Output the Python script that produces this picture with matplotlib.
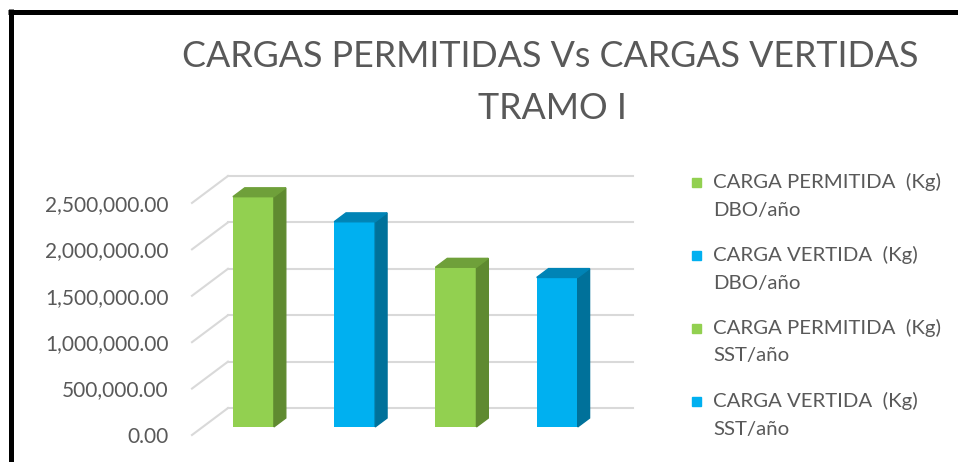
import numpy as np
import matplotlib.pyplot as plt
from matplotlib.patches import Polygon, Rectangle
from matplotlib.lines import Line2D

plt.rcParams['font.family'] = ['Lato', 'DejaVu Sans']

# data
labels = ["CARGA PERMITIDA  (Kg)\nDBO/año", "CARGA VERTIDA  (Kg)\nDBO/año",
          "CARGA PERMITIDA  (Kg)\nSST/año", "CARGA VERTIDA  (Kg)\nSST/año"]
values = [2480000, 2210000, 1720000, 1610000]
yticks = [0, 500000, 1000000, 1500000, 2000000, 2500000]

face_colors = ["#92D050", "#00B0F0", "#92D050", "#00B0F0"]
side_colors = ["#5F8A30", "#00719A", "#5F8A30", "#00719A"]
top_colors = ["#6FA03A", "#0084B6", "#6FA03A", "#0084B6"]
text_color = "#595959"
grid_color = "#D9D9D9"

# fake 3d: depth shift for the back wall
DX = 0.355
DY = 290000
z0, z1 = 0.30, 0.63
w = 0.405

W, H = 958, 462
fig = plt.figure(figsize=(W / 100, H / 100), dpi=100)
ax = fig.add_axes([192 / W, (H - 435) / H, (633 - 192) / W, (435 - 176) / H])
ax.set_xlim(-0.5, 3.5 + DX)
ax.set_ylim(0, yticks[-1] + DY)

# side wall + back wall gridlines
for t in yticks:
    ax.plot([-0.5, -0.5 + DX], [t, t + DY], color=grid_color, lw=1.5, clip_on=False, zorder=1)
    ax.plot([-0.5 + DX, 3.5 + DX], [t + DY, t + DY], color=grid_color, lw=1.5, clip_on=False, zorder=1)

xs = np.arange(len(values))
bottom = z0 * DY
ddx = (z1 - z0) * DX
ddy = (z1 - z0) * DY
ax.bar(xs + z0 * DX, values, width=w, bottom=bottom, color=face_colors, zorder=3)
for i, v in enumerate(values):
    xl = xs[i] + z0 * DX - w / 2
    xr = xl + w
    top = bottom + v
    ax.add_patch(Polygon([(xr, bottom), (xr, top), (xr + ddx, top + ddy), (xr + ddx, bottom + ddy)],
                         closed=True, color=side_colors[i], zorder=3))
    ax.add_patch(Polygon([(xl, top), (xr, top), (xr + ddx, top + ddy), (xl + ddx, top + ddy)],
                         closed=True, color=top_colors[i], zorder=3))

ax.set_yticks(yticks)
ax.set_yticklabels([f"{t:,.2f}" for t in yticks], fontsize=15, color=text_color)
ax.tick_params(axis='y', length=0, pad=17)
ax.set_xticks([])
for s in ax.spines.values():
    s.set_visible(False)

# title
fig.text(550 / W, 1 - 67 / H, "CARGAS PERMITIDAS Vs CARGAS VERTIDAS", ha='center', va='baseline',
         fontsize=25.8, color=text_color)
fig.text(552 / W, 1 - 119 / H, "TRAMO I", ha='center', va='baseline',
         fontsize=25.8, color=text_color)

# legend
for i, lab in enumerate(labels):
    y = 182 + 73 * i
    fig.add_artist(Rectangle((692 / W, 1 - (y + 4.5) / H), 9 / W, 9 / H,
                             transform=fig.transFigure, color=face_colors[i]))
    l1, l2 = lab.split("\n")
    fig.text(713 / W, 1 - y / H, l1, va='center', fontsize=14.7, color=text_color)
    fig.text(713 / W, 1 - (y + 28) / H, l2, va='center', fontsize=14.7, color=text_color)

# frame
fig.add_artist(Line2D([8 / W, 1], [1 - 11.5 / H, 1 - 11.5 / H], color='black', lw=3.6,
                      transform=fig.transFigure, solid_capstyle='butt'))
fig.add_artist(Line2D([10.5 / W, 10.5 / W], [1 - 9 / H, 0], color='black', lw=3.6,
                      transform=fig.transFigure, solid_capstyle='butt'))

fig.savefig("out.png", dpi=100)
